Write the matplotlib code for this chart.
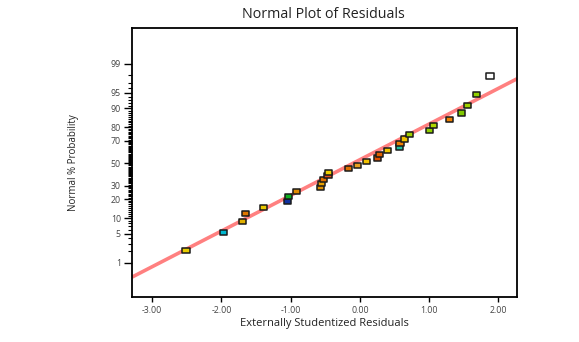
"""Normal probability plot of externally studentized residuals. Output: out.png"""
from statistics import NormalDist

import matplotlib
matplotlib.use("Agg")
import matplotlib.pyplot as plt
import numpy as np
from matplotlib.path import Path

# residuals, sorted ascending, with the colour of each marker
RESIDUALS = [
    -2.51, -1.97, -1.69, -1.65, -1.39, -1.04, -1.03, -0.92, -0.57, -0.56,
    -0.52, -0.46, -0.45, -0.17, -0.03, 0.09, 0.25, 0.29, 0.40, 0.57,
    0.58, 0.64, 0.72, 1.01, 1.07, 1.30, 1.47, 1.56, 1.69, 1.88,
]
POINT_COLORS = [
    "#e8cc00", "#00b8d0", "#e0b000", "#e07800", "#e8c800", "#1030a0", "#10b020", "#e08a00", "#e09000", "#e8a000",
    "#e07000", "#e05020", "#f0d000", "#e07000", "#e8a020", "#f0c000", "#e05000", "#e06000", "#f0c800", "#20c0a0",
    "#f08000", "#f0c000", "#a0d000", "#90d000", "#b0d800", "#f08000", "#80c800", "#a0d000", "#90d000", "#ffffff",
]

# reference normal line: mean and sd of the fitted distribution
LINE_MEAN = -0.10
LINE_SD = 1.20

X_TICKS = [-3, -2, -1, 0, 1, 2]
Y_TICKS = [1, 5, 10, 20, 30, 50, 70, 80, 90, 95, 99]

ND = NormalDist()


def z_of(pct):
    return ND.inv_cdf(pct / 100.0)


def main():
    plt.rcParams["font.family"] = ["Open Sans", "DejaVu Sans"]
    plt.rcParams["axes.unicode_minus"] = False

    fig = plt.figure(figsize=(5.79, 3.42), dpi=100)
    ax = fig.add_axes([0.228, 0.132, 0.665, 0.786])

    x_min, x_max = -3.29, 2.27
    ax.set_xlim(x_min, x_max)
    ax.set_ylim(-3.12, 3.16)

    # fitted line
    line_x = np.array([x_min, x_max])
    ax.plot(line_x, (line_x - LINE_MEAN) / LINE_SD, color="#ff8080", lw=2.6, zorder=2,
            solid_capstyle="butt")

    # plotting positions (Blom)
    n = len(RESIDUALS)
    z = [z_of(100.0 * (i + 1 - 0.375) / (n + 0.25)) for i in range(n)]
    rect = Path([(-1, -0.72), (1, -0.72), (1, 0.72), (-1, 0.72), (-1, -0.72)],
                [Path.MOVETO, Path.LINETO, Path.LINETO, Path.LINETO, Path.CLOSEPOLY])
    ax.scatter(RESIDUALS, z, marker=rect, s=26, c=POINT_COLORS, edgecolors="#1a1a1a",
               linewidths=1.1, zorder=3)

    ax.set_xticks(X_TICKS)
    ax.set_xticklabels([f"{t:.2f}" for t in X_TICKS], fontsize=6.3, color="#444444")
    ax.set_yticks([z_of(p) for p in Y_TICKS])
    ax.set_yticklabels([str(p) for p in Y_TICKS], fontsize=6.3, color="#444444")
    ax.set_yticks([z_of(p) for p in range(1, 100) if p not in Y_TICKS], minor=True)

    ax.tick_params(axis="y", which="major", length=6, width=1, pad=2)
    ax.tick_params(axis="y", which="minor", length=3, width=0.8)
    ax.tick_params(axis="x", which="major", length=3.8, width=1, pad=3)
    for sp in ax.spines.values():
        sp.set_linewidth(1.3)

    ax.set_xlabel("Externally Studentized Residuals", fontsize=8, color="#222222")
    ax.xaxis.set_label_coords(0.5, -0.08)
    ax.set_ylabel("Normal % Probability", fontsize=7, color="#222222")
    ax.yaxis.set_label_coords(-0.137, 0.5)

    fig.text(0.558, 0.957, "Normal Plot of Residuals", fontsize=10.3, ha="center", va="center",
             color="#222222")

    fig.savefig("out.png", dpi=100, facecolor="white")


if __name__ == "__main__":
    main()
